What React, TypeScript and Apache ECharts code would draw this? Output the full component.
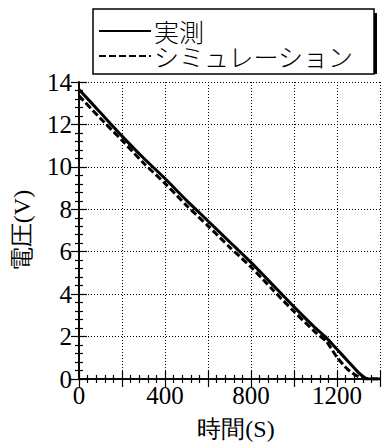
import React, { useEffect, useRef } from "react";
import * as echarts from "echarts";

const times = [0, 100, 200, 300, 400, 500, 600, 700, 800, 900, 1000, 1100, 1150, 1200, 1250, 1300, 1330, 1350, 1400];
const measured = [13.65, 12.55, 11.45, 10.42, 9.45, 8.42, 7.45, 6.47, 5.5, 4.45, 3.4, 2.4, 1.95, 1.4, 0.85, 0.3, 0.06, 0, 0];
const simulated = [13.35, 12.28, 11.25, 10.18, 9.22, 8.18, 7.22, 6.22, 5.28, 4.22, 3.18, 2.2, 1.78, 1.02, 0.45, 0.1, 0.01, 0, 0];
const seriesNames = ["実測", "シミュレーション"];
const xLabelsShown = [0, 400, 800, 1200];

const serif = "Liberation Serif";
const cjk = "Noto Sans CJK JP";

export default function App() {
  const ref = useRef<HTMLDivElement>(null);
  useEffect(() => {
    if (!ref.current) return;
    const chart = echarts.init(ref.current, undefined, { renderer: "svg" });
    const axisLine = { show: true, lineStyle: { color: "#000", width: 1.6 } };
    const tick = { show: true, inside: true, length: 8, lineStyle: { color: "#000", width: 1.2 } };
    const minor = { show: true, splitNumber: 5, length: 4, lineStyle: { color: "#000", width: 1.2 } };
    const grid = { show: true, lineStyle: { color: "#000", width: 1, type: [1, 2] as any } };
    chart.setOption({
      animation: false,
      backgroundColor: "#fff",
      grid: { left: 79, top: 82, width: 303, height: 301, containLabel: false },
      legend: {
        orient: "vertical",
        left: 93,
        top: 9,
        padding: [9.5, 20, 5.5, 5],
        itemGap: 0,
        itemWidth: 52,
        itemHeight: 14,
        backgroundColor: "#fff",
        borderColor: "#000",
        borderWidth: 1.5,
        borderRadius: 0,
        itemStyle: { opacity: 0 },
        lineStyle: { width: 2 },
        textStyle: { fontFamily: cjk, fontSize: 25, fontWeight: 300, color: "#000", lineHeight: 23, padding: [0, 0, 0, -2] },
        data: seriesNames,
        z: 10,
      },
      graphic: [
        { type: "rect", shape: { x: 97, y: 13, width: 280, height: 61 }, style: { fill: "#000" }, z: 5 },
      ],
      xAxis: [
        {
          type: "value",
          min: 0,
          max: 1400,
          interval: 200,
          position: "bottom",
          axisLine,
          axisTick: tick,
          minorTick: minor,
          splitLine: grid,
          axisLabel: {
            margin: 4,
            fontFamily: serif,
            fontSize: 25,
            color: "#000",
            formatter: (v: number) => (xLabelsShown.includes(v) ? String(v) : ""),
          },
          name: "時間(S)",
          nameLocation: "middle",
          nameGap: 38,
          nameTextStyle: { fontFamily: serif, fontSize: 24, color: "#000", padding: [0, 0, 0, 13] },
        },
        {
          type: "value",
          min: 0,
          max: 1400,
          interval: 200,
          position: "top",
          axisLine,
          axisTick: tick,
          minorTick: minor,
          splitLine: { show: false },
          axisLabel: { show: false },
        },
      ],
      yAxis: [
        {
          type: "value",
          min: 0,
          max: 14,
          interval: 2,
          position: "left",
          axisLine,
          axisTick: tick,
          minorTick: minor,
          splitLine: grid,
          axisLabel: { margin: 7, fontFamily: serif, fontSize: 25, color: "#000" },
          name: "電圧(V)",
          nameLocation: "middle",
          nameGap: 45,
          nameTextStyle: { fontFamily: serif, fontSize: 24, color: "#000" },
        },
        {
          type: "value",
          min: 0,
          max: 14,
          interval: 2,
          position: "right",
          axisLine,
          axisTick: tick,
          minorTick: minor,
          splitLine: { show: false },
          axisLabel: { show: false },
        },
      ],
      series: [
        {
          name: seriesNames[0],
          type: "line",
          data: times.map((t, i) => [t, measured[i]]),
          showSymbol: false,
          symbol: "none",
          smooth: 0.2,
          lineStyle: { color: "#000", width: 3, type: "solid" },
          itemStyle: { color: "#000" },
          z: 3,
        },
        {
          name: seriesNames[1],
          type: "line",
          data: times.map((t, i) => [t, simulated[i]]),
          showSymbol: false,
          symbol: "none",
          smooth: 0.2,
          lineStyle: { color: "#000", width: 3, type: [7, 3] },
          itemStyle: { color: "#000" },
          z: 3,
        },
      ],
    });
    return () => chart.dispose();
  }, []);
  return <div ref={ref} style={{ width: 383, height: 446, position: "absolute", left: 0, top: 0 }} />;
}
